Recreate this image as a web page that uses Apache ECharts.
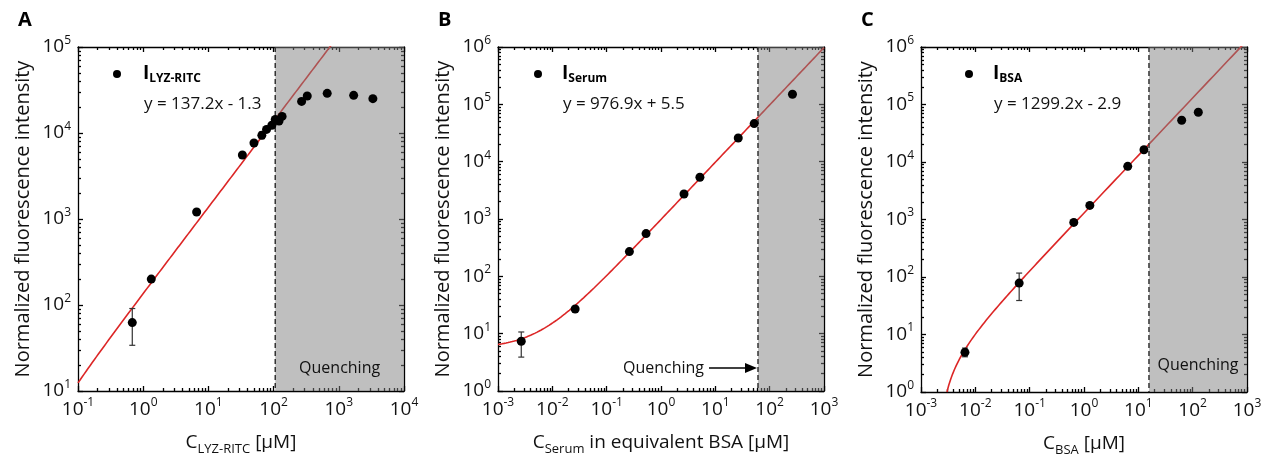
<!DOCTYPE html>
<html>
<head>
<meta charset="utf-8">
<script src="https://cdn.jsdelivr.net/npm/echarts@6/dist/echarts.min.js"></script>
<style>
  html, body { margin: 0; padding: 0; background: #ffffff; }
  #chart { width: 1263px; height: 458px; }
</style>
</head>
<body>
<div id="chart"></div>
<script>
// ---------------- data ----------------
const panelLetters = ['A', 'B', 'C'];
const legendSubscripts = ['LYZ-RITC', 'Serum', 'BSA'];
const xTitleSubscripts = ['LYZ-RITC', 'Serum', 'BSA'];
const xTitleSuffixes = [' [\u03bcM]', ' in equivalent BSA [\u03bcM]', ' [\u03bcM]'];
const yTitle = 'Normalized fluorescence intensity';
const quenchingText = 'Quenching';

// axis ranges (log scale)
const xRanges = [[1e-1, 1e4], [1e-3, 1e3], [1e-3, 1e3]];
const yRanges = [[1e1, 1e5], [1e0, 1e6], [1e0, 1e6]];

// panel A: LYZ-RITC
const lyzConc   = [0.68, 1.33, 6.6, 33.2, 50, 66, 78, 94, 106, 121, 135, 269, 328, 664, 1690, 3330];
const lyzSignal = [62.4, 200, 1205, 5550, 7650, 9400, 11000, 12300, 14400, 13800, 15600, 23300, 26900, 28900, 27400, 25100];
const lyzErrors = [[0.68, 34, 91], [66, 8600, 10300]];

// panel B: serum
const serumConc   = [0.00268, 0.0263, 0.262, 0.531, 2.65, 5.2, 26.4, 51.9, 263];
const serumSignal = [7.36, 26.9, 270, 556, 2730, 5340, 25900, 46100, 150000];
const serumErrors = [[0.00268, 3.9, 10.7]];

// panel C: BSA
const bsaConc   = [0.00644, 0.0641, 0.648, 1.28, 6.38, 12.7, 62.8, 127];
const bsaSignal = [4.9, 78.3, 891, 1760, 8410, 16300, 53300, 73400];
const bsaErrors = [[0.00644, 4.1, 5.8], [0.0641, 39, 117]];

// linear fits y = slope * x + intercept
const fitSlopes     = [137.2, 976.9, 1299.2];
const fitIntercepts = [-1.3, 5.5, -2.9];

// start of the quenching regime
const quenchStart = [106, 61, 15.7];

// ---------------- layout ----------------
const FONT = '"Open Sans", "Noto Sans", sans-serif';
const INK = '#111';
const grids = [
  { left: 78,  top: 47, width: 326, height: 344, outerBoundsMode: 'none', containLabel: false },
  { left: 498, top: 47, width: 326, height: 344, outerBoundsMode: 'none', containLabel: false },
  { left: 921, top: 47, width: 326, height: 345, outerBoundsMode: 'none', containLabel: false }
];
const legendOffset = [[39, 27, 65], [40, 27, 64], [48, 27, 72]]; // dot dx, dy, text dx
const quenchMode = ['inside', 'arrow', 'inside'];
const quenchTextLift = [23, 23, 27];
const RED = '#dc2626';

const concSets = [lyzConc, serumConc, bsaConc];
const signalSets = [lyzSignal, serumSignal, bsaSignal];
const errorSets = [lyzErrors, serumErrors, bsaErrors];

function decades(r) {
  const out = [];
  for (let e = Math.round(Math.log10(r[0])); e <= Math.round(Math.log10(r[1])); e++) out.push(Math.pow(10, e));
  return out;
}
function minors(r) {
  const out = [];
  for (let e = Math.round(Math.log10(r[0])); e < Math.round(Math.log10(r[1])); e++) {
    for (let k = 2; k <= 9; k++) out.push(+(k * Math.pow(10, e)).toPrecision(6));
  }
  return out;
}
function fmtPow(v) {
  const n = Math.round(Math.log10(v));
  return '{b|10}{sup|' + (n < 0 ? '-' + (-n) : n) + '}';
}
const labelRich = {
  b: { fontFamily: FONT, fontSize: 19, color: INK, lineHeight: 25 },
  sup: { fontFamily: FONT, fontSize: 12, color: INK, verticalAlign: 'top', lineHeight: 12 }
};

const xAxes = [], yAxes = [], series = [], graphics = [];

grids.forEach((g, i) => {
  const xr = xRanges[i], yr = yRanges[i];
  const base = { type: 'log', logBase: 10, gridIndex: i, splitLine: { show: false } };
  const lineStyle = { color: '#000', width: 1.3 };
  // x axes: bottom major, bottom minor, top major, top minor
  xAxes.push(Object.assign({}, base, {
    min: xr[0], max: xr[1], position: 'bottom',
    axisLine: { show: true, lineStyle },
    axisTick: { show: true, inside: true, length: 5, lineStyle, customValues: decades(xr) },
    axisLabel: { show: true, margin: 6, customValues: decades(xr), formatter: fmtPow, rich: labelRich },
    name: '{m|C}{s|' + xTitleSubscripts[i] + '}{m|' + xTitleSuffixes[i] + '}',
    nameLocation: 'middle', nameGap: 39,
    nameTextStyle: {
      rich: {
        m: { fontFamily: FONT, fontSize: 19, color: INK, lineHeight: 26 },
        s: { fontFamily: FONT, fontSize: 13, color: INK, verticalAlign: 'bottom', lineHeight: 12 }
      }
    }
  }));
  xAxes.push(Object.assign({}, base, {
    min: xr[0], max: xr[1], position: 'bottom',
    axisLine: { show: false }, axisLabel: { show: false },
    axisTick: { show: true, inside: true, length: 3, lineStyle, customValues: minors(xr) }
  }));
  xAxes.push(Object.assign({}, base, {
    min: xr[0], max: xr[1], position: 'top',
    axisLine: { show: true, lineStyle }, axisLabel: { show: false },
    axisTick: { show: true, inside: true, length: 5, lineStyle, customValues: decades(xr) }
  }));
  xAxes.push(Object.assign({}, base, {
    min: xr[0], max: xr[1], position: 'top',
    axisLine: { show: false }, axisLabel: { show: false },
    axisTick: { show: true, inside: true, length: 3, lineStyle, customValues: minors(xr) }
  }));
  // y axes: left major, left minor, right major, right minor
  yAxes.push(Object.assign({}, base, {
    min: yr[0], max: yr[1], position: 'left',
    axisLine: { show: true, lineStyle },
    axisTick: { show: true, inside: true, length: 5, lineStyle, customValues: decades(yr) },
    axisLabel: { show: true, margin: 7, customValues: decades(yr), formatter: fmtPow, rich: labelRich },
    name: yTitle, nameLocation: 'middle', nameGap: 45,
    nameTextStyle: { fontFamily: FONT, fontSize: 20, color: INK }
  }));
  yAxes.push(Object.assign({}, base, {
    min: yr[0], max: yr[1], position: 'left',
    axisLine: { show: false }, axisLabel: { show: false },
    axisTick: { show: true, inside: true, length: 3, lineStyle, customValues: minors(yr) }
  }));
  yAxes.push(Object.assign({}, base, {
    min: yr[0], max: yr[1], position: 'right',
    axisLine: { show: true, lineStyle }, axisLabel: { show: false },
    axisTick: { show: true, inside: true, length: 5, lineStyle, customValues: decades(yr) }
  }));
  yAxes.push(Object.assign({}, base, {
    min: yr[0], max: yr[1], position: 'right',
    axisLine: { show: false }, axisLabel: { show: false },
    axisTick: { show: true, inside: true, length: 3, lineStyle, customValues: minors(yr) }
  }));

  const xi = i * 4, yi = i * 4;

  // fitted line from the stated equation
  const a = fitSlopes[i], b = fitIntercepts[i];
  const xStart = Math.max(xr[0], (yr[0] - b) / a);
  const fit = [];
  const N = 160;
  for (let k = 0; k <= N; k++) {
    const x = Math.pow(10, Math.log10(xStart) + (Math.log10(xr[1]) - Math.log10(xStart)) * k / N);
    const y = a * x + b;
    if (y > 0) fit.push([x, y]);
  }
  series.push({
    type: 'line', xAxisIndex: xi, yAxisIndex: yi, data: fit, showSymbol: false,
    lineStyle: { color: RED, width: 1.6 }, clip: true, silent: true, z: 2, animation: false
  });

  // quenching regime
  series.push({
    type: 'custom', xAxisIndex: xi, yAxisIndex: yi, z: 3, silent: true, animation: false,
    data: [[quenchStart[i], xr[1], yr[0], yr[1]]],
    renderItem: (params, api) => {
      const tl = api.coord([api.value(0), api.value(3)]);
      const br = api.coord([api.value(1), api.value(2)]);
      const children = [
        { type: 'rect', shape: { x: tl[0], y: tl[1], width: br[0] - tl[0], height: br[1] - tl[1] },
          style: { fill: 'rgba(128,128,128,0.5)' } },
        { type: 'line', shape: { x1: tl[0], y1: tl[1], x2: tl[0], y2: br[1] },
          style: { stroke: '#333', lineWidth: 1.5, lineDash: [5, 3] } }
      ];
      const ty = br[1] - quenchTextLift[i];
      if (quenchMode[i] === 'inside') {
        children.push({ type: 'text', style: { text: quenchingText, x: (tl[0] + br[0]) / 2, y: ty,
          align: 'center', verticalAlign: 'middle', font: '16px ' + FONT, fill: INK } });
      } else {
        children.push({ type: 'text', style: { text: quenchingText, x: tl[0] - 54, y: ty,
          align: 'right', verticalAlign: 'middle', font: '16px ' + FONT, fill: INK } });
        children.push({ type: 'line', shape: { x1: tl[0] - 49, y1: ty, x2: tl[0] - 8, y2: ty },
          style: { stroke: '#000', lineWidth: 1.6 } });
        children.push({ type: 'polygon', shape: { points: [[tl[0] - 1, ty], [tl[0] - 13, ty - 5], [tl[0] - 13, ty + 5]] },
          style: { fill: '#000' } });
      }
      return { type: 'group', children };
    }
  });

  // error bars
  series.push({
    type: 'custom', xAxisIndex: xi, yAxisIndex: yi, z: 4, silent: true, animation: false,
    data: errorSets[i], encode: { x: 0, y: [1, 2] },
    renderItem: (params, api) => {
      const lo = api.coord([api.value(0), api.value(1)]);
      const hi = api.coord([api.value(0), api.value(2)]);
      const st = { stroke: '#333', lineWidth: 1.2 };
      return { type: 'group', children: [
        { type: 'line', shape: { x1: lo[0], y1: lo[1], x2: hi[0], y2: hi[1] }, style: st },
        { type: 'line', shape: { x1: lo[0] - 3, y1: lo[1], x2: lo[0] + 3, y2: lo[1] }, style: st },
        { type: 'line', shape: { x1: hi[0] - 3, y1: hi[1], x2: hi[0] + 3, y2: hi[1] }, style: st }
      ] };
    }
  });

  // measurements
  series.push({
    type: 'scatter', xAxisIndex: xi, yAxisIndex: yi, z: 5, animation: false,
    data: concSets[i].map((x, k) => [x, signalSets[i][k]]),
    symbol: 'circle', symbolSize: 9, itemStyle: { color: '#000', opacity: 1 }
  });

  // panel letter
  graphics.push({ type: 'text', left: g.left - 60, top: 10,
    style: { text: panelLetters[i], font: 'bold 20px ' + FONT, fill: '#000' } });

  // legend entry and fit equation
  const lo = legendOffset[i];
  graphics.push({ type: 'circle', shape: { cx: g.left + lo[0], cy: g.top + lo[1], r: 4 }, style: { fill: '#000' } });
  graphics.push({ type: 'text', x: g.left + lo[2], y: g.top + lo[1],
    style: {
      text: '{i|I}{s|' + legendSubscripts[i] + '}',
      verticalAlign: 'middle',
      rich: {
        i: { fontFamily: FONT, fontWeight: 'bold', fontSize: 19, fill: '#000', lineHeight: 22 },
        s: { fontFamily: FONT, fontWeight: 'bold', fontSize: 12, fill: '#000', verticalAlign: 'bottom', lineHeight: 12 }
      }
    } });
  const eq = 'y = ' + fitSlopes[i] + 'x ' + (fitIntercepts[i] < 0 ? '- ' : '+ ') + Math.abs(fitIntercepts[i]);
  graphics.push({ type: 'text', x: g.left + lo[2] + 1, y: g.top + 57,
    style: { text: eq, font: '17px ' + FONT, fill: INK, verticalAlign: 'middle' } });
});

const chart = echarts.init(document.getElementById('chart'), null, { renderer: 'canvas' });
chart.setOption({
  animation: false,
  backgroundColor: '#ffffff',
  grid: grids,
  xAxis: xAxes,
  yAxis: yAxes,
  series: series,
  graphic: graphics
});
</script>
</body>
</html>
